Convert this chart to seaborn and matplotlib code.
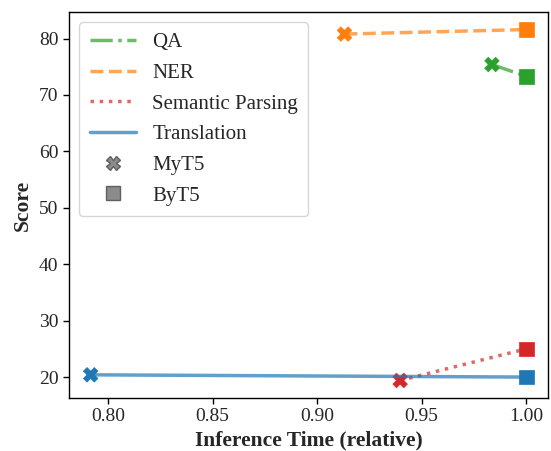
import matplotlib
matplotlib.use("Agg")
import matplotlib.pyplot as plt
from matplotlib.lines import Line2D
import seaborn as sns
import pandas as pd

tasks = ["QA", "NER", "Semantic Parsing", "Translation"]
models = ["MyT5", "ByT5"]
inference_time = {
    "QA": [0.9836, 1.0],
    "NER": [0.9131, 1.0],
    "Semantic Parsing": [0.9397, 1.0],
    "Translation": [0.7917, 1.0],
}
scores = {
    "QA": [75.4, 73.3],
    "NER": [80.8, 81.6],
    "Semantic Parsing": [19.4, 25.0],
    "Translation": [20.4, 20.0],
}

colors = {"QA": "#2ca02c", "NER": "#ff7f0e",
          "Semantic Parsing": "#d62728", "Translation": "#1f77b4"}
dash_styles = {"QA": "-.", "NER": "--", "Semantic Parsing": ":", "Translation": "-"}
marker_map = {"MyT5": "X", "ByT5": "s"}

rows = []
for t in tasks:
    for m, x, y in zip(models, inference_time[t], scores[t]):
        rows.append({"task": t, "model": m, "time": x, "score": y})
df = pd.DataFrame(rows)

sns.set_style("white")
plt.rcParams["font.family"] = ["Liberation Serif", "DejaVu Serif"]
plt.rcParams["axes.edgecolor"] = "black"

fig, ax = plt.subplots(figsize=(5.51, 4.51), dpi=100)
fig.subplots_adjust(left=0.125, right=0.9946, top=0.9734, bottom=0.1175)

for t in tasks:
    sub = df[df["task"] == t]
    sns.scatterplot(data=sub, x="time", y="score", style="model",
                    markers=marker_map, color=colors[t], s=110,
                    edgecolor=colors[t], linewidth=0.5, legend=False, ax=ax, zorder=2)
    sns.lineplot(data=sub, x="time", y="score", color=colors[t],
                 linestyle=dash_styles[t], linewidth=2.5, alpha=0.7,
                 legend=False, ax=ax, zorder=3)

for s in ax.spines.values():
    s.set_color("black")
    s.set_linewidth(1.0)

ax.tick_params(axis="both", which="major", labelsize=14, length=4, width=1,
               color="black", bottom=True, left=True, direction="out")
ax.set_xlabel("Inference Time (relative)", fontsize=15.5, fontweight="bold")
ax.set_ylabel("Score", fontsize=15.5, fontweight="bold")
ax.set_xticks([0.80, 0.85, 0.90, 0.95, 1.00])
ax.set_xticklabels(["0.80", "0.85", "0.90", "0.95", "1.00"])

handles = [Line2D([0], [0], color=colors[t], linestyle=dash_styles[t],
                  linewidth=2.5, alpha=0.7, label=t) for t in tasks]
for m in models:
    handles.append(Line2D([0], [0], color="none", marker=marker_map[m],
                          markerfacecolor="#7f7f7f", markeredgecolor="#555555",
                          markersize=10, label=m, alpha=0.9))
ax.legend(handles=handles, loc="upper left", fontsize=15, frameon=True,
          handlelength=2.2, borderpad=0.5, labelspacing=0.53)

fig.savefig("out.png", dpi=100)
